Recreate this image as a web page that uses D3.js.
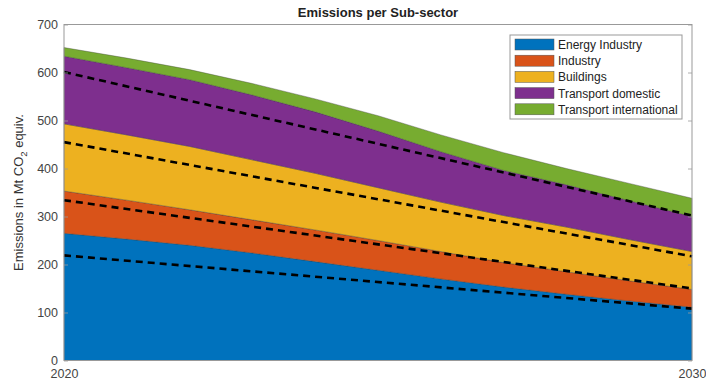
<!DOCTYPE html>
<html>
<head>
<meta charset="utf-8">
<script src="https://cdn.jsdelivr.net/npm/d3@7"></script>
<style>
  body { margin: 0; background: #fff; }
  svg { display: block; font-family: "Liberation Sans", Arial, sans-serif; }
</style>
</head>
<body>
<svg id="chart" width="706" height="381"></svg>
<script>
// Stacked emissions per sub-sector, Mt CO2 equiv.
const years = [2020, 2021, 2022, 2023, 2024, 2025, 2026, 2027, 2028, 2029, 2030];
const sectors = ["Energy Industry", "Industry", "Buildings", "Transport domestic", "Transport international"];
const energyIndustry = [265, 253, 240, 224, 206, 188, 170, 153, 138, 124, 111];
const industry = [88, 81, 74, 69, 66, 62, 57, 51, 47, 42, 37];
const buildings = [140, 136, 132, 125, 118, 110, 103, 98, 93, 86, 79];
const transportDomestic = [141, 140, 139, 135, 128, 118, 105, 94, 88, 81, 73];
const transportInternational = [18, 20, 21, 24, 27, 32, 35, 37, 34, 36, 38];
const colors = ["#0072BD", "#D95319", "#EDB120", "#7E2F8E", "#77AC30"];

// dashed target lines (start 2020, end 2030)
const targetYears = [2020, 2030];
const targets = [
  [219, 108],
  [334, 150],
  [455, 217],
  [601, 302]
];
const yTicks = [0, 100, 200, 300, 400, 500, 600, 700];
const xTicks = [2020, 2030];

const svg = d3.select("#chart");
const margin = { left: 64, right: 14, top: 24.5, bottom: 20.5 };
const width = 706, height = 381;

const x = d3.scaleLinear().domain([2020, 2030]).range([margin.left, width - margin.right]);
const y = d3.scaleLinear().domain([0, 700]).range([height - margin.bottom, margin.top]);

const series = [energyIndustry, industry, buildings, transportDomestic, transportInternational];
const table = years.map((yr, i) => {
  const row = { year: yr };
  sectors.forEach((s, j) => { row[s] = series[j][i]; });
  return row;
});
const stacked = d3.stack().keys(sectors)(table);

const area = d3.area()
  .x(d => x(d.data.year))
  .y0(d => y(d[0]))
  .y1(d => y(d[1]));

svg.append("g").selectAll("path")
  .data(stacked)
  .join("path")
  .attr("d", area)
  .attr("fill", (d, i) => colors[i])
  .attr("stroke", "#3a3a3a")
  .attr("stroke-opacity", 0.6)
  .attr("stroke-width", 0.6);

const line = d3.line()
  .x((d, i) => x(targetYears[i]))
  .y(d => y(d));

svg.append("g").selectAll("path")
  .data(targets)
  .join("path")
  .attr("d", line)
  .attr("fill", "none")
  .attr("stroke", "#000")
  .attr("stroke-width", 2.6)
  .attr("stroke-dasharray", "7,5");

// axes
const tickColor = "#444";
const yAxis = svg.append("g")
  .attr("transform", `translate(${margin.left},0)`)
  .call(d3.axisLeft(y).tickValues(yTicks).tickSize(-4).tickPadding(6));
const yAxisR = svg.append("g")
  .attr("transform", `translate(${width - margin.right},0)`)
  .call(d3.axisRight(y).tickValues(yTicks).tickSize(-4).tickFormat(""));
const xAxis = svg.append("g")
  .attr("transform", `translate(0,${height - margin.bottom})`)
  .call(d3.axisBottom(x).tickValues(xTicks).tickSize(0).tickPadding(9).tickFormat(d3.format("d")));

[yAxis, yAxisR, xAxis].forEach(g => {
  g.select(".domain").remove();
  g.selectAll("line").attr("stroke", "#999").attr("stroke-width", 0.8);
  g.selectAll("text").attr("fill", tickColor).style("font-size", "12.5px").style("font-family", "'Liberation Sans', Arial, sans-serif");
});

svg.append("rect")
  .attr("x", margin.left)
  .attr("y", margin.top)
  .attr("width", width - margin.right - margin.left)
  .attr("height", height - margin.bottom - margin.top)
  .attr("fill", "none")
  .attr("stroke", "#999")
  .attr("stroke-width", 1);

// title
svg.append("text")
  .attr("x", (margin.left + width - margin.right) / 2)
  .attr("y", 17)
  .attr("text-anchor", "middle")
  .attr("fill", "#222")
  .style("font-size", "13px")
  .style("font-weight", "bold")
  .text("Emissions per Sub-sector");

// y label
const yl = svg.append("text")
  .attr("transform", `translate(23,${(margin.top + height - margin.bottom) / 2}) rotate(-90)`)
  .attr("text-anchor", "middle")
  .attr("fill", "#333")
  .style("font-size", "13px");
yl.append("tspan").text("Emissions in Mt CO");
yl.append("tspan").attr("dy", 4).style("font-size", "9.5px").text("2");
yl.append("tspan").attr("dy", -4).text(" equiv.");

// legend
const lg = svg.append("g").attr("transform", "translate(510,35)");
lg.append("rect")
  .attr("width", 172).attr("height", 84)
  .attr("fill", "#fff").attr("stroke", "#999").attr("stroke-width", 1);
const items = lg.selectAll("g.item")
  .data(sectors)
  .join("g")
  .attr("class", "item")
  .attr("transform", (d, i) => `translate(5,${4 + i * 16.2})`);
items.append("rect")
  .attr("width", 39).attr("height", 11)
  .attr("fill", (d, i) => colors[i])
  .attr("stroke", "#555").attr("stroke-width", 0.5);
items.append("text")
  .attr("x", 43).attr("y", 10)
  .attr("fill", "#222")
  .style("font-size", "12px")
  .text(d => d);
</script>
</body>
</html>
